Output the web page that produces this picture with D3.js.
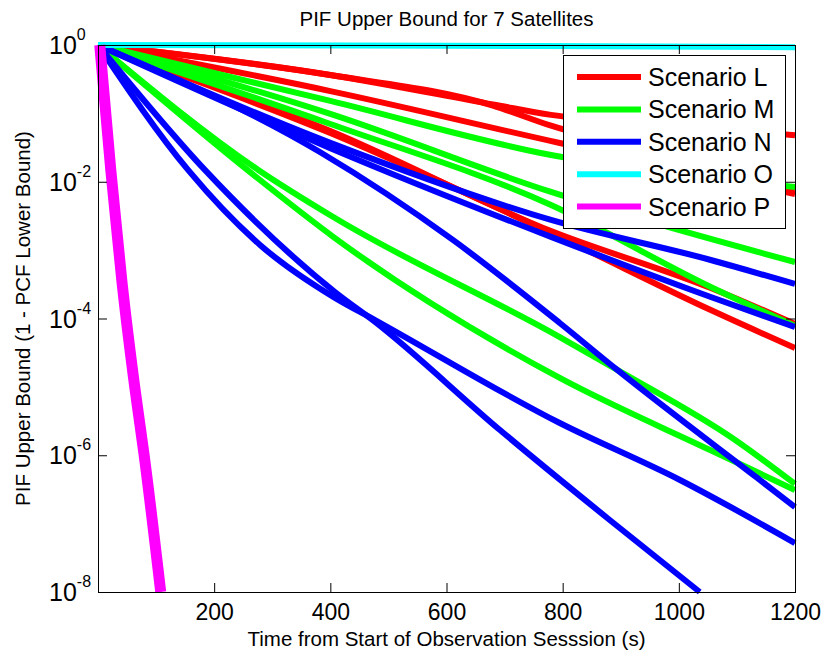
<!DOCTYPE html>
<html>
<head>
<meta charset="utf-8">
<script src="https://cdn.jsdelivr.net/npm/d3@7"></script>
<style>
  body { margin: 0; background: #fff; }
  text { font-family: "Liberation Sans", Arial, Helvetica, sans-serif; fill: #000; }
</style>
</head>
<body>
<svg id="chart" width="824" height="651"></svg>
<script>
// ---- data: [time (s), PIF upper bound] ----
const xTicks = [200, 400, 600, 800, 1000, 1200];
const yTicks = [1, 1e-2, 1e-4, 1e-6, 1e-8];
const scenarios = ["Scenario L", "Scenario M", "Scenario N", "Scenario O", "Scenario P"];

const runsL = [
  [[0, 1], [400, 0.364], [680, 0.135], [780, 0.095], [1000, 0.065], [1200, 0.048]],
  [[0, 1], [400, 0.364], [680, 0.13], [780, 0.066], [1000, 0.022], [1200, 0.0076]],
  [[0, 1], [400, 0.212], [795, 0.0369], [1200, 0.0066]],
  [[0, 1], [400, 0.0552], [780, 0.0019], [1055, 2.79e-4], [1200, 8.3e-5]],
  [[0, 1], [400, 0.0516], [780, 0.00178], [1055, 1.33e-4], [1200, 3.7e-5]]
];

const runsM = [
  [[0, 1], [400, 0.152], [780, 0.0246], [1200, 0.0084]],
  [[0, 1], [400, 0.098], [780, 0.0071], [1200, 6.7e-4]],
  [[0, 1], [400, 0.070], [780, 0.00457], [1055, 2.89e-4], [1200, 7.8e-5]],
  [[0, 1], [276, 0.0149], [408, 0.00295], [795, 5.36e-5], [894, 1.77e-5], [1097, 1.67e-6], [1200, 3.8e-7]],
  [[0, 1], [257, 0.0149], [408, 0.0015], [795, 1.35e-5], [1054, 1.19e-6], [1200, 3.1e-7]]
];

const runsN = [
  [[0, 1], [400, 0.037], [780, 0.00276], [1055, 7.17e-4], [1200, 3.2e-4]],
  [[0, 1], [400, 0.031], [780, 0.00156], [1055, 2.06e-4], [1200, 7.5e-5]],
  [[0, 1], [382, 0.0272], [611, 0.00141], [795, 8.6e-5], [894, 1.77e-5], [1135, 4.65e-7], [1200, 1.75e-7]],
  [[0, 1], [155, 0.0149], [279, 0.00119], [408, 2.0e-4], [477, 9.5e-5], [795, 2.96e-6], [1002, 4.35e-7], [1200, 5.2e-8]],
  [[0, 1], [184, 0.0149], [408, 2.44e-4], [477, 8.9e-5], [692, 2.34e-6], [881, 1.13e-7], [1036, 1e-8]]
];

const runsO = [
  [[0, 1], [600, 0.975], [1200, 0.93]]
];

const runsP = [
  [[3, 1], [22, 0.0148], [41, 3.6e-4], [64, 8.9e-6], [79, 1.07e-6], [108, 1e-8]]
];

// ---- styling ----
const colors = ["#ff0000", "#00ff00", "#0000ff", "#00ffff", "#ff00ff"];
const widths = [6, 6, 6, 6, 11];
const allRuns = [runsL, runsM, runsN, runsO, runsP];

const plot = { left: 98, right: 795, top: 45, bottom: 592 };

const svg = d3.select("#chart");

const x = d3.scaleLinear().domain([0, 1200]).range([plot.left, plot.right]);
const y = d3.scaleLog().domain([1e-8, 1]).range([plot.bottom, plot.top]);

const line = d3.line()
    .x(d => x(d[0]))
    .y(d => y(d[1]))
    .curve(d3.curveMonotoneX);

// data lines, drawn in scenario order so later ones sit on top
const linesG = svg.append("g").attr("class", "lines");
allRuns.forEach((runs, i) => {
  linesG.selectAll(null)
      .data(runs)
      .enter().append("path")
      .attr("d", d => line(d))
      .attr("fill", "none")
      .attr("stroke", colors[i])
      .attr("stroke-width", widths[i])
      .attr("stroke-linejoin", "round");
});

// axes: ticks point inwards on all four sides
const tick = 9;
const xAxis = svg.append("g")
    .attr("transform", `translate(0, ${plot.bottom})`)
    .call(d3.axisBottom(x).tickValues(xTicks).tickSize(-tick).tickPadding(12).tickFormat(d3.format("d")));
xAxis.selectAll("text").style("font-size", "23px");

svg.append("g")
    .attr("transform", `translate(0, ${plot.top})`)
    .call(d3.axisTop(x).tickValues(xTicks).tickSize(-tick).tickFormat(""));

svg.append("g")
    .attr("transform", `translate(${plot.left}, 0)`)
    .call(d3.axisLeft(y).tickValues(yTicks).tickSize(-tick).tickFormat(""));

svg.append("g")
    .attr("transform", `translate(${plot.right}, 0)`)
    .call(d3.axisRight(y).tickValues(yTicks).tickSize(-tick).tickFormat(""));

svg.selectAll(".domain").remove();
svg.selectAll(".tick line").attr("stroke", "#000");

// y tick labels as 10 with a raised exponent
const yLabels = svg.append("g").attr("class", "y-labels");
yTicks.forEach(v => {
  const ty = y(v);
  const t = yLabels.append("text")
      .attr("x", 49)
      .attr("y", ty + 9)
      .style("font-size", "25px");
  t.append("tspan").text("10");
  t.append("tspan")
      .attr("dy", -14)
      .style("font-size", "16px")
      .text(Math.round(Math.log10(v)));
});

// box
svg.append("rect")
    .attr("x", plot.left + 0.5)
    .attr("y", plot.top + 0.5)
    .attr("width", plot.right - plot.left)
    .attr("height", plot.bottom - plot.top)
    .attr("fill", "none")
    .attr("stroke", "#000")
    .attr("stroke-width", 1);

// title and labels
const midX = (plot.left + plot.right) / 2;
svg.append("text")
    .attr("x", midX)
    .attr("y", 26)
    .attr("text-anchor", "middle")
    .style("font-size", "20.5px")
    .text("PIF Upper Bound for 7 Satellites");

svg.append("text")
    .attr("x", midX)
    .attr("y", 646)
    .attr("text-anchor", "middle")
    .style("font-size", "20.5px")
    .text("Time from Start of Observation Sesssion (s)");

svg.append("text")
    .attr("transform", `translate(30, ${(plot.top + plot.bottom) / 2}) rotate(-90)`)
    .attr("text-anchor", "middle")
    .style("font-size", "20.5px")
    .text("PIF Upper Bound (1 - PCF Lower Bound)");

// legend
const legend = svg.append("g").attr("class", "legend");
legend.append("rect")
    .attr("x", 563.5)
    .attr("y", 55.5)
    .attr("width", 222)
    .attr("height", 173)
    .attr("fill", "#fff")
    .attr("stroke", "#000")
    .attr("stroke-width", 1);

const rowY0 = 77, rowStep = 32.4;
const items = legend.selectAll(".legend-item")
    .data(scenarios)
    .enter().append("g")
    .attr("class", "legend-item")
    .attr("transform", (d, i) => `translate(0, ${rowY0 + i * rowStep})`);

items.append("line")
    .attr("x1", 577)
    .attr("x2", 641)
    .attr("y1", 0)
    .attr("y2", 0)
    .attr("stroke", (d, i) => colors[i])
    .attr("stroke-width", 6);

items.append("text")
    .attr("x", 648)
    .attr("y", 9)
    .style("font-size", "25px")
    .text(d => d);
</script>
</body>
</html>
